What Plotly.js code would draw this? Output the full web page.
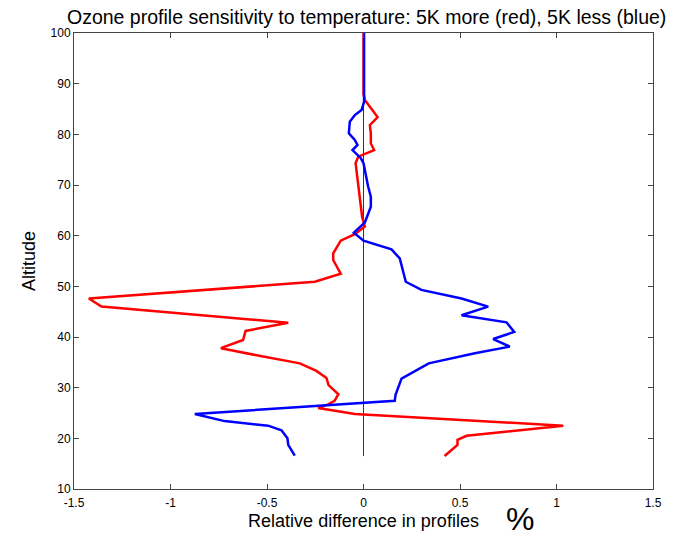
<!DOCTYPE html>
<html>
<head>
<meta charset="utf-8">
<script src="https://cdn.plot.ly/plotly-3.0.1.min.js"></script>
<style>html,body{margin:0;padding:0;background:#fff;}#chart{width:673px;height:539px;}</style>
</head>
<body>
<div id="chart"></div>
<script>
// Red series: 5K more
var redAltitude = [16.5, 18.7, 19.7, 20.5, 22.5, 24.8, 26.0, 26.7, 27.4, 28.7, 30.5, 31.9, 33.3, 34.8, 36.4, 37.8, 39.4, 41.2, 42.8, 46.0, 47.6, 50.9, 52.5, 55.2, 56.5, 59.0, 60.3, 61.8, 63.7, 67.7, 72.3, 74.3, 75.6, 76.9, 78.2, 80.2, 81.8, 83.4, 86.8, 88.0, 100];
var redDiff = [0.42, 0.487, 0.487, 0.534, 1.035, -0.045, -0.235, -0.183, -0.15, -0.13, -0.181, -0.192, -0.244, -0.33, -0.554, -0.739, -0.624, -0.611, -0.39, -1.358, -1.423, -0.252, -0.118, -0.157, -0.157, -0.118, -0.045, 0.007, -0.007, -0.019, -0.036, -0.041, -0.027, 0.055, 0.038, 0.038, 0.033, 0.073, 0.007, 0.0, 0.0];
// Blue series: 5K less
var blueAltitude = [16.6, 18.7, 20.0, 21.6, 22.5, 23.4, 24.8, 27.4, 28.6, 31.8, 34.8, 36.8, 38.1, 39.6, 41.0, 42.9, 44.3, 46.0, 47.6, 49.3, 50.9, 55.5, 57.3, 59.0, 60.6, 62.6, 65.7, 67.7, 69.7, 74.3, 75.3, 76.9, 77.9, 78.9, 80.2, 82.5, 83.8, 84.8, 86.4, 100];
var blueDiff = [-0.356, -0.39, -0.394, -0.425, -0.494, -0.72, -0.874, 0.162, 0.166, 0.197, 0.338, 0.577, 0.758, 0.672, 0.781, 0.741, 0.508, 0.646, 0.508, 0.30, 0.219, 0.188, 0.145, 0.0, -0.05, 0.007, 0.038, 0.038, 0.024, 0.0, -0.014, -0.057, -0.031, -0.045, -0.076, -0.071, -0.045, -0.01, 0.003, 0.003];
// Zero reference line
var zeroAltitude = [16.5, 100];
var zeroDiff = [0, 0];

var xTicks = [-1.5, -1, -0.5, 0, 0.5, 1, 1.5];
var xTickLabels = ['-1.5', '-1', '-0.5', '0', '0.5', '1', '1.5'];
var yTicks = [10, 20, 30, 40, 50, 60, 70, 80, 90, 100];

var font = 'Liberation Sans, Arial, Helvetica, sans-serif';

var traces = [
  {x: zeroDiff, y: zeroAltitude, mode: 'lines', line: {color: '#333', width: 1}, hoverinfo: 'skip'},
  {x: redDiff, y: redAltitude, mode: 'lines', line: {color: '#ff0000', width: 2.5}},
  {x: blueDiff, y: blueAltitude, mode: 'lines', line: {color: '#0000ff', width: 2.5}}
];

var axisCommon = {
  showline: true, linecolor: '#444', linewidth: 1, mirror: 'allticks',
  ticks: 'inside', ticklen: 5, tickcolor: '#444', tickwidth: 1,
  showgrid: false, zeroline: false,
  tickfont: {family: font, size: 12, color: '#000'}
};

var layout = {
  width: 673, height: 539,
  margin: {l: 74, r: 20, t: 33, b: 50},
  paper_bgcolor: '#fff', plot_bgcolor: '#fff',
  showlegend: false,
  title: {text: 'Ozone profile sensitivity to temperature: 5K more (red), 5K less (blue)',
          font: {family: font, size: 19.5, color: '#000'}, xref: 'container', x: 67 / 673, xanchor: 'left',
          yref: 'container', y: 1 - 17 / 539, yanchor: 'middle'},
  xaxis: Object.assign({}, axisCommon, {
    range: [-1.5, 1.5], tickvals: xTicks, ticktext: xTickLabels, ticklabelstandoff: 3,
    title: {text: 'Relative difference in profiles', font: {family: font, size: 18, color: '#000'}, standoff: 4}
  }),
  yaxis: Object.assign({}, axisCommon, {
    range: [10, 100], tickvals: yTicks,
    title: {text: 'Altitude', font: {family: font, size: 18, color: '#000'}, standoff: 10}
  }),
  annotations: [
    {text: '%', xref: 'paper', yref: 'paper', x: (520 - 74) / 579, y: -0.066, xanchor: 'center', yanchor: 'middle',
     showarrow: false, font: {family: font, size: 32, color: '#000'}}
  ]
};

Plotly.newPlot('chart', traces, layout, {displayModeBar: false, staticPlot: true});
</script>
</body>
</html>
